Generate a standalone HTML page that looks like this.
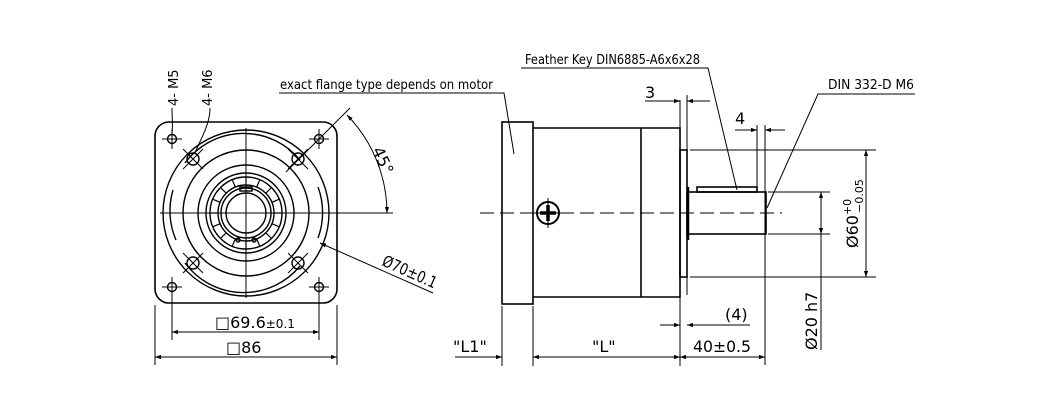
<!DOCTYPE html>
<html><head><meta charset="utf-8"><style>
html,body{margin:0;padding:0;background:#fff;width:1050px;height:411px;overflow:hidden}
svg{display:block}
text{font-family:"DejaVu Sans","Liberation Sans",sans-serif;fill:#000}
</style></head><body>
<svg width="1050" height="411" viewBox="0 0 1050 411" xmlns="http://www.w3.org/2000/svg">
<defs>
<marker id="a" viewBox="0 0 10 10" refX="10" refY="5" markerWidth="10" markerHeight="6" orient="auto-start-reverse" markerUnits="userSpaceOnUse"><path d="M0,1.5 L10,5 L0,8.5z" fill="#000"/></marker>
</defs>
<g fill="none" stroke="#000" stroke-width="1">
<!-- FRONT VIEW -->
<rect x="155" y="122" width="182" height="181" rx="14" stroke-width="1.6"/>
<line x1="160" y1="213" x2="393" y2="213"/>
<line x1="246" y1="128" x2="246" y2="298"/>
<g stroke-width="1.4">
<circle cx="246" cy="213" r="83"/>
<path d="M185,163 A73,73 0 0 1 300,160"/>
<path d="M300,266 A73,73 0 0 1 185,263"/>
<path d="M173,190 A73,73 0 0 0 176,240"/>
<path d="M318,187 A73,73 0 0 1 318,238"/>
<circle cx="246" cy="213" r="63"/>
<circle cx="246" cy="213" r="48"/>
<circle cx="246" cy="213" r="40"/>
<circle cx="246" cy="213" r="36"/>
<circle cx="246" cy="213" r="28"/>
<circle cx="246" cy="213" r="25"/>
<circle cx="246" cy="213" r="20"/>
<rect x="240" y="187" width="12" height="4"/>
<circle cx="238" cy="240" r="2"/><circle cx="254" cy="240" r="2"/>
</g>
<g stroke-width="1.2" transform="translate(246,213)">
<path d="M0,-28v-8 M0,28v8 M-28,0h-8 M28,0h8 M19.8,19.8l5.7,5.7 M-19.8,19.8l-5.7,5.7 M19.8,-19.8l5.7,-5.7 M-19.8,-19.8l-5.7,-5.7 M10.7,25.9l3.1,7.4 M-10.7,25.9l-3.1,7.4 M10.7,-25.9l3.1,-7.4 M-10.7,-25.9l-3.1,-7.4 M25.9,10.7l7.4,3.1 M-25.9,10.7l-7.4,3.1 M25.9,-10.7l7.4,-3.1 M-25.9,-10.7l-7.4,-3.1"/>
</g>
<!-- holes -->
<g stroke-width="1.4">
<circle cx="172" cy="139" r="4.5"/><circle cx="319" cy="139" r="4.5"/>
<circle cx="172" cy="287" r="4.5"/><circle cx="319" cy="287" r="4.5"/>
<circle cx="193" cy="159" r="6"/><circle cx="298" cy="159" r="6"/>
<circle cx="193" cy="263" r="6"/><circle cx="298" cy="263" r="6"/>
</g>
<path d="M162,139h20M172,129v20M309,139h20M319,129v20M162,287h20M172,277v20M309,287h20M319,277v20"/>
<path d="M183,149l20,20M203,149l-20,20M288,149l20,20M308,149l-20,20M183,253l20,20M203,253l-20,20M288,253l20,20M308,253l-20,20"/>
<line x1="286" y1="172" x2="350" y2="108"/>
<path d="M347,115 A141,141 0 0 1 387,213" marker-start="url(#a)" marker-end="url(#a)"/>
<line x1="320" y1="243" x2="433" y2="293" marker-start="url(#a)"/>
<!-- leaders M5 M6 -->
<path d="M172,108 C172,118 173,125 172,134"/>
<path d="M210,108 C210,125 200,140 195,153"/>
<!-- front dims -->
<line x1="172" y1="290" x2="172" y2="340"/><line x1="319" y1="290" x2="319" y2="340"/>
<line x1="155" y1="305" x2="155" y2="365"/><line x1="337" y1="305" x2="337" y2="365"/>
<line x1="172" y1="332" x2="319" y2="332" marker-start="url(#a)" marker-end="url(#a)"/>
<line x1="155" y1="357" x2="337" y2="357" marker-start="url(#a)" marker-end="url(#a)"/>
<!-- flange note -->
<path d="M279,93 H504 L514,154"/>
<!-- SIDE VIEW -->
<g stroke-width="1.6">
<rect x="502" y="122" width="31" height="182"/>
<path d="M533,128 H680 V297 H533"/>
<line x1="641" y1="128" x2="641" y2="297"/>
<rect x="680" y="150" width="7" height="127"/>
<rect x="687" y="192" width="79" height="42"/>
<rect x="697" y="187" width="60" height="5"/>
<line x1="688" y1="187" x2="688" y2="240" stroke-width="2.5"/>
</g>
<line x1="480" y1="213" x2="782" y2="213" stroke-dasharray="14,6"/>
<circle cx="548" cy="213" r="11" stroke-width="2"/>
<path d="M548,198v30M533,213h30"/>
<path d="M548,205v16M540,213h16" stroke-width="3.5"/>
<!-- side dims -->
<path d="M502,306v60M533,306v60M680,100v266M687,95v200M765,125v240M757,125v62"/>
<line x1="455" y1="357" x2="502" y2="357" marker-end="url(#a)"/>
<line x1="533" y1="357" x2="680" y2="357" marker-start="url(#a)" marker-end="url(#a)"/>
<line x1="680" y1="357" x2="765" y2="357" marker-start="url(#a)" marker-end="url(#a)"/>
<line x1="645" y1="101" x2="680" y2="101" marker-end="url(#a)"/>
<line x1="710" y1="101" x2="687" y2="101" marker-end="url(#a)"/>
<line x1="735" y1="130" x2="757" y2="130" marker-end="url(#a)"/>
<line x1="785" y1="130" x2="765" y2="130" marker-end="url(#a)"/>
<line x1="660" y1="325" x2="680" y2="325" marker-end="url(#a)"/>
<line x1="750" y1="325" x2="687" y2="325" marker-end="url(#a)"/>
<path d="M690,150H876M690,277H876M768,192H830M768,234H830"/>
<line x1="866" y1="150" x2="866" y2="277" marker-start="url(#a)" marker-end="url(#a)"/>
<line x1="821" y1="192" x2="821" y2="234" marker-start="url(#a)" marker-end="url(#a)"/>
<line x1="821" y1="234" x2="821" y2="350"/>
<!-- leaders -->
<path d="M521,68H708L737,190"/>
<path d="M915,94H818L767,208"/>
</g>
<!-- TEXT -->
<g font-size="13">
<text x="280" y="89" textLength="213" lengthAdjust="spacingAndGlyphs">exact flange type depends on motor</text>
<text x="525" y="64" textLength="175" lengthAdjust="spacingAndGlyphs">Feather Key DIN6885-A6x6x28</text>
<text x="828" y="89" textLength="86" lengthAdjust="spacingAndGlyphs">DIN 332-D M6</text>
<text transform="translate(178,106) rotate(-90)">4- M5</text>
<text transform="translate(212,106) rotate(-90)">4- M6</text>
</g>
<g font-size="16">
<text transform="translate(372,150) rotate(65)">45°</text>
<text transform="translate(381,265) rotate(24)" textLength="58" lengthAdjust="spacingAndGlyphs">Ø70±0.1</text>
<text x="215" y="328">□69.6<tspan font-size="12">±0.1</tspan></text>
<text x="226" y="353">□86</text>
<text x="453" y="352">"L1"</text>
<text x="592" y="352">"L"</text>
<text x="693" y="352" textLength="58" lengthAdjust="spacingAndGlyphs">40±0.5</text>
<text x="725" y="320">(4)</text>
<text x="645" y="98">3</text>
<text x="735" y="124">4</text>
<text transform="translate(858,248) rotate(-90)">Ø60<tspan font-size="11" dy="-7">+0</tspan><tspan font-size="11" dx="-14" dy="12">−0.05</tspan></text>
<text transform="translate(817,350) rotate(-90)">Ø20 h7</text>
</g>
</svg>
</body></html>
